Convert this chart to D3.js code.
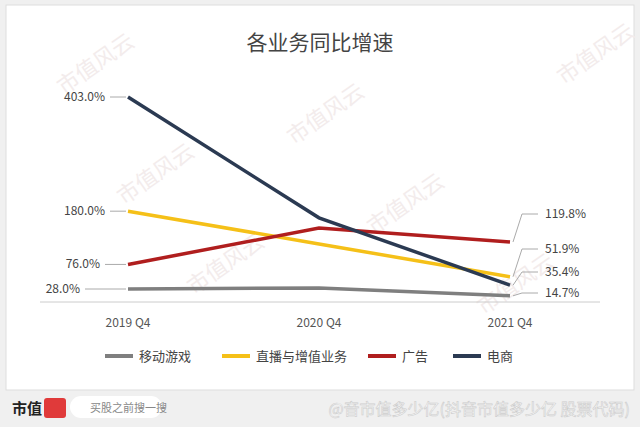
<!DOCTYPE html>
<html><head><meta charset="utf-8">
<script src="https://cdn.jsdelivr.net/npm/d3@7"></script>
<style>body{margin:0;background:#f0f0f0;font-family:"Noto Sans CJK SC","Noto Sans",sans-serif}</style>
</head><body>
<script>
var quarters = ["2019 Q4", "2020 Q4", "2021 Q4"];
var seriesNames = ["移动游戏", "直播与增值业务", "广告", "电商"];
var colors = ["#7f7f7f", "#f5c018", "#b01e1e", "#2b3a52"];
var games = [28.0, 30, 14.7];
var live = [180.0, 116, 51.9];
var ads = [76.0, 147, 119.8];
var ecom = [403.0, 167, 35.4];
var leftLabels = ["28.0%", "180.0%", "76.0%", "403.0%"];
var rightLabels = ["14.7%", "51.9%", "119.8%", "35.4%"];

var W = 640, H = 427;
var svg = d3.select("body").append("svg").attr("width", W).attr("height", H);
svg.append("rect").attr("x", 6).attr("y", 5).attr("width", 628).attr("height", 385).attr("fill", "#fff").attr("stroke", "#ddd");

var x = d3.scalePoint().domain(quarters).range([128, 510]);
var y = d3.scaleLinear().domain([28, 403]).range([289, 97]);

// watermarks
[[100,70],[160,180],[230,270],[330,120],[410,210],[520,290],[600,60]].forEach(function(p){
  svg.append("text").attr("transform","translate("+p[0]+","+p[1]+") rotate(-35)")
    .attr("font-size",22).attr("fill","#f3ecec").attr("text-anchor","middle").text("市值风云");
});

svg.append("text").attr("x", 320).attr("y", 50).attr("text-anchor", "middle")
  .attr("font-size", 21).attr("fill", "#444").text("各业务同比增速");

svg.append("line").attr("x1", 40).attr("x2", 600).attr("y1", 302).attr("y2", 302).attr("stroke", "#ccc");
svg.selectAll(".xl").data(quarters).enter().append("text")
  .attr("x", function(d){return x(d);}).attr("y", 327).attr("text-anchor","middle")
  .attr("font-size", 12).attr("fill", "#555").text(function(d){return d;});

var all = [games, live, ads, ecom];
var line = d3.line().x(function(d,i){return x(quarters[i]);}).y(function(d){return y(d);});
all.forEach(function(s, k){
  svg.append("path").attr("d", line(s)).attr("fill","none").attr("stroke", colors[k]).attr("stroke-width", 3.5);
});

// left labels
var leftEnd = [80, 105, 100, 105];
all.forEach(function(s, k){
  var ly = y(s[0]);
  svg.append("polyline").attr("points", [[leftEnd[k]+5,ly],[118,ly],[126,ly]].join(" "))
    .attr("fill","none").attr("stroke","#aaa");
  svg.append("text").attr("x", leftEnd[k]).attr("y", ly + 4).attr("text-anchor","end")
    .attr("font-size", 12).attr("fill","#444").text(leftLabels[k]);
});
// right labels
var rightY = [293, 249, 214, 272];
all.forEach(function(s, k){
  var ly = y(s[2]);
  svg.append("polyline").attr("points", [[513,ly],[522,rightY[k]],[538,rightY[k]]].join(" "))
    .attr("fill","none").attr("stroke","#aaa");
  svg.append("text").attr("x", 545).attr("y", rightY[k] + 4).attr("font-size", 12).attr("fill","#444").text(rightLabels[k]);
});

// legend
var lx = [105, 222, 368, 453];
seriesNames.forEach(function(n, k){
  svg.append("line").attr("x1", lx[k]).attr("x2", lx[k]+28).attr("y1", 356).attr("y2", 356)
    .attr("stroke", colors[k]).attr("stroke-width", 4);
  svg.append("text").attr("x", lx[k]+34).attr("y", 361).attr("font-size", 13).attr("fill","#444").text(n);
});

// footer
svg.append("text").attr("x", 12).attr("y", 414).attr("font-size", 15).attr("font-weight","bold").attr("fill","#222").text("市值");
svg.append("rect").attr("x", 44).attr("y", 398).attr("width", 22).attr("height", 20).attr("fill","#e03a3a").attr("rx",3);
svg.append("rect").attr("x", 70).attr("y", 396).attr("width", 92).attr("height", 22).attr("fill","#fff").attr("rx",11);
svg.append("text").attr("x", 90).attr("y", 412).attr("font-size", 11).attr("fill","#888").text("买股之前搜一搜");
svg.append("text").attr("x", 630).attr("y", 415).attr("text-anchor","end").attr("font-size", 16).attr("fill","#fff")
  .attr("stroke","#ccc").attr("stroke-width",0.6).text("@音市值多少亿(抖音市值多少亿 股票代码)");
</script>
</body></html>
